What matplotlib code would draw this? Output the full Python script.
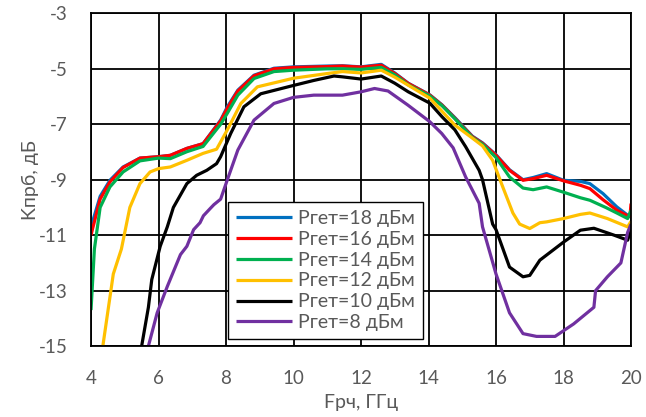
"""Conversion loss vs RF frequency for several heterodyne power levels."""

import matplotlib
matplotlib.use("Agg")
import matplotlib.pyplot as plt

TEXT_COLOR = "#595959"

LABELS = ["Pгет=18 дБм", "Pгет=16 дБм", "Pгет=14 дБм",
          "Pгет=12 дБм", "Pгет=10 дБм", "Pгет=8 дБм"]
COLORS = ["#0070C0", "#FF0000", "#00B050", "#FFC000", "#000000", "#7030A0"]

f18 = [4.0, 4.27, 4.56, 4.95, 5.45, 6.0, 6.35, 6.84, 7.32, 7.84, 8.04, 8.35, 8.83,
       9.42, 10.0, 11.0, 11.45, 12.0, 12.6, 13.0, 13.4, 14.04, 14.4, 14.78, 15.3,
       15.6, 16.0, 16.4, 16.8, 17.1, 17.5, 18.0, 18.5, 18.78, 19.17, 19.58, 19.9, 20.0]
k18 = [-10.7, -9.6, -9.02, -8.54, -8.22, -8.17, -8.12, -7.87, -7.7, -6.85, -6.37,
       -5.77, -5.23, -4.98, -4.93, -4.9, -4.89, -4.93, -4.84, -5.15, -5.52, -5.94,
       -6.3, -6.76, -7.43, -7.67, -8.1, -8.64, -9.0, -8.92, -8.78, -9.02, -9.06,
       -9.14, -9.5, -9.98, -10.28, -10.35]

f16 = [4.0, 4.05, 4.27, 4.56, 4.95, 5.45, 6.0, 6.35, 6.84, 7.32, 7.84, 8.04, 8.35,
       8.83, 9.42, 10.0, 11.0, 11.45, 12.0, 12.6, 13.0, 13.4, 14.04, 14.4, 14.78,
       15.3, 15.6, 16.0, 16.4, 16.8, 17.1, 17.5, 18.0, 18.5, 18.78, 19.17, 19.58,
       19.9, 19.97, 20.0]
k16 = [-11.0, -10.75, -9.7, -9.08, -8.56, -8.22, -8.17, -8.12, -7.87, -7.7, -6.88,
       -6.42, -5.8, -5.25, -5.0, -4.95, -4.92, -4.9, -4.94, -4.87, -5.17, -5.53,
       -5.95, -6.31, -6.78, -7.45, -7.69, -8.12, -8.66, -9.02, -8.96, -8.84, -9.04,
       -9.2, -9.32, -9.72, -10.1, -10.3, -10.32, -9.86]

f14 = [4.0, 4.1, 4.27, 4.56, 4.95, 5.45, 6.0, 6.35, 6.84, 7.32, 7.84, 8.04, 8.35,
       8.83, 9.42, 10.0, 11.0, 11.45, 12.0, 12.6, 13.0, 13.4, 14.04, 14.4, 14.78,
       15.3, 15.6, 16.0, 16.4, 16.8, 17.1, 17.5, 18.0, 18.5, 18.78, 19.25, 19.58,
       19.9, 20.0]
k14 = [-13.7, -11.5, -10.0, -9.26, -8.72, -8.32, -8.22, -8.24, -7.99, -7.8, -7.0,
       -6.6, -5.95, -5.35, -5.1, -5.05, -5.0, -5.0, -5.02, -4.95, -5.22, -5.58,
       -5.98, -6.33, -6.8, -7.48, -7.72, -8.2, -8.9, -9.3, -9.36, -9.26, -9.45,
       -9.65, -9.74, -10.0, -10.2, -10.4, -10.1]

f12 = [4.35, 4.66, 4.9, 5.15, 5.45, 5.75, 6.0, 6.35, 6.84, 7.32, 7.72, 8.04, 8.44,
       8.93, 10.0, 11.0, 11.45, 12.0, 12.6, 13.0, 14.04, 14.78, 15.3, 15.6, 15.9,
       16.2, 16.5, 16.7, 17.0, 17.3, 17.5, 18.0, 18.5, 18.78, 19.3, 19.9, 20.0]
k12 = [-15.0, -12.4, -11.5, -10.0, -9.14, -8.72, -8.6, -8.54, -8.3, -8.05, -7.9,
       -7.2, -6.25, -5.65, -5.34, -5.17, -5.1, -5.15, -5.05, -5.3, -6.06, -7.03,
       -7.5, -7.78, -8.3, -9.26, -10.2, -10.6, -10.76, -10.55, -10.52, -10.4,
       -10.25, -10.2, -10.4, -10.7, -10.5]

f10 = [5.5, 5.7, 5.8, 6.05, 6.26, 6.44, 6.84, 7.13, 7.43, 7.72, 7.84, 8.14, 8.53,
       9.03, 10.0, 10.6, 11.2, 11.45, 12.0, 12.6, 13.0, 13.4, 14.04, 14.4, 14.78,
       15.1, 15.5, 15.6, 15.9, 16.0, 16.4, 16.8, 17.0, 17.3, 18.0, 18.5, 18.9, 19.5,
       19.9, 20.0]
k10 = [-15.0, -13.6, -12.6, -11.4, -10.7, -10.0, -9.14, -8.84, -8.66, -8.42, -8.17,
       -7.33, -6.37, -5.9, -5.6, -5.42, -5.26, -5.29, -5.37, -5.26, -5.52, -5.83,
       -6.24, -6.73, -7.2, -7.81, -8.66, -9.0, -10.6, -10.8, -12.15, -12.5, -12.45,
       -11.9, -11.25, -10.82, -10.75, -11.0, -11.18, -10.8]

f8 = [5.7, 5.96, 6.26, 6.65, 6.84, 7.04, 7.23, 7.33, 7.53, 7.64, 7.84, 8.04, 8.35,
      8.83, 9.42, 10.0, 10.6, 11.45, 12.0, 12.4, 12.8, 13.39, 14.04, 14.39, 14.73,
      15.1, 15.5, 15.6, 16.0, 16.4, 16.8, 17.2, 17.75, 18.3, 18.9, 18.95, 19.3,
      19.7, 19.9, 20.0]
k8 = [-15.0, -13.8, -12.85, -11.7, -11.4, -10.8, -10.55, -10.3, -10.04, -9.9, -9.7,
      -9.0, -7.93, -6.85, -6.25, -6.03, -5.95, -5.95, -5.83, -5.71, -5.8, -6.31,
      -6.91, -7.33, -7.85, -8.9, -9.85, -10.7, -12.4, -13.8, -14.55, -14.65,
      -14.65, -14.2, -13.6, -13.0, -12.5, -12.0, -10.9, -10.6]

SERIES = [(f18, k18), (f16, k16), (f14, k14), (f12, k12), (f10, k10), (f8, k8)]
X_TICKS = [4, 6, 8, 10, 12, 14, 16, 18, 20]
Y_TICKS = [-3, -5, -7, -9, -11, -13, -15]

plt.rcParams["font.family"] = ["Lato", "Noto Sans", "DejaVu Sans"]
plt.rcParams["axes.unicode_minus"] = False

fig = plt.figure(figsize=(6.46, 4.17), dpi=100)
ax = fig.add_axes([0.1409, 0.170, 0.8359, 0.798])

for (freq, loss), label, color in zip(SERIES, LABELS, COLORS):
    ax.plot(freq, loss, color=color, linewidth=2.3, label=label,
            solid_joinstyle="round", solid_capstyle="butt")

ax.set_xlim(4, 20)
ax.set_ylim(-15, -3)
ax.set_xticks(X_TICKS)
ax.set_yticks(Y_TICKS)
ax.grid(True, color="black", linewidth=1.3)
ax.set_axisbelow(True)
for spine in ax.spines.values():
    spine.set_color("black")
    spine.set_linewidth(1.3)
ax.tick_params(length=0, labelsize=13.5, labelcolor=TEXT_COLOR)
ax.tick_params(axis="y", pad=17)
ax.tick_params(axis="x", pad=17)

ax.set_xlabel("Fрч, ГГц", fontsize=14, color=TEXT_COLOR, labelpad=5)
ax.set_ylabel("Kпрб, дБ", fontsize=14, color=TEXT_COLOR, labelpad=0)

legend = ax.legend(loc="upper left", bbox_to_anchor=(0.254, 0.433),
                   fontsize=14, labelcolor=TEXT_COLOR, fancybox=False,
                   framealpha=1, edgecolor="black", handlelength=2.9,
                   handletextpad=0.3, labelspacing=0.2, borderpad=0.4,
                   borderaxespad=0)
legend.get_frame().set_linewidth(1.0)

fig.savefig("out.png", dpi=100)
